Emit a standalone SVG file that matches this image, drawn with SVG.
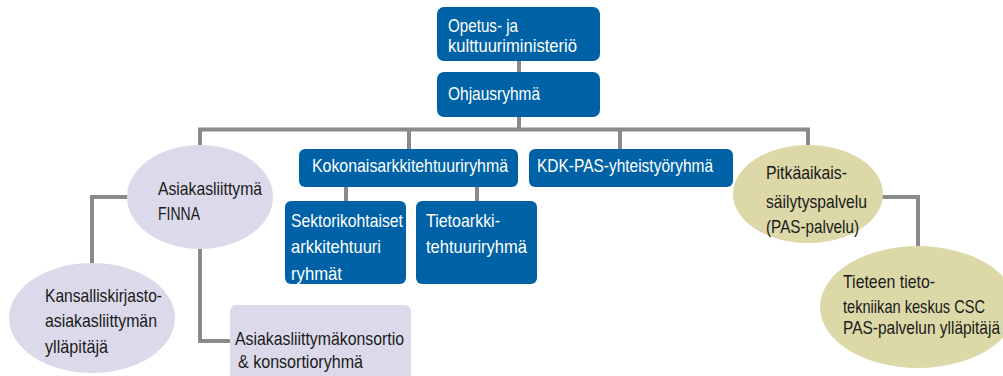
<svg xmlns="http://www.w3.org/2000/svg" width="1003" height="376" viewBox="0 0 1003 376">
<style>
.conn{fill:none;stroke:#8a8a8a;stroke-width:4}
.blue{fill:#0062a6}
.lav{fill:#dcdaea}
.olive{fill:#dcd8a8}
text{font-family:"Liberation Sans",Arial,sans-serif;font-size:19px}
.w{fill:#ffffff}
.k{fill:#1a1a1a}
</style>
<rect width="1003" height="376" fill="#ffffff"/>
<g id="connectors">
<path class="conn" d="M519 61V72"/>
<path class="conn" d="M519 117V130"/>
<path class="conn" d="M200 150V129.5H808V152"/>
<path class="conn" d="M409 129.5V149"/>
<path class="conn" d="M620 129.5V149"/>
<path class="conn" d="M346 187V201"/>
<path class="conn" d="M477 187V201"/>
<path class="conn" d="M130 197H92V266"/>
<path class="conn" d="M200 248V341H232"/>
<path class="conn" d="M880 197H918V248"/>
</g>
<g id="opetus">
<rect class="blue" x="437" y="7" width="163" height="54" rx="7"/>
<text class="w" x="448" y="32" textLength="70" lengthAdjust="spacingAndGlyphs">Opetus- ja</text>
<text class="w" x="448" y="52" textLength="129" lengthAdjust="spacingAndGlyphs">kulttuuriministeriö</text>
</g>
<g id="ohjausryhma">
<rect class="blue" x="437" y="72" width="163" height="45" rx="7"/>
<text class="w" x="448" y="100" textLength="92" lengthAdjust="spacingAndGlyphs">Ohjausryhmä</text>
</g>
<g id="kokonais">
<rect class="blue" x="299" y="149" width="219" height="38" rx="6"/>
<text class="w" x="312" y="172" textLength="196" lengthAdjust="spacingAndGlyphs">Kokonaisarkkitehtuuriryhmä</text>
</g>
<g id="kdk">
<rect class="blue" x="529" y="149" width="204" height="38" rx="6"/>
<text class="w" x="537" y="172" textLength="176" lengthAdjust="spacingAndGlyphs">KDK-PAS-yhteistyöryhmä</text>
</g>
<g id="sektori">
<rect class="blue" x="285" y="201" width="121" height="83" rx="6"/>
<text class="w" x="291" y="227" textLength="112" lengthAdjust="spacingAndGlyphs">Sektorikohtaiset</text>
<text class="w" x="291" y="253" textLength="90" lengthAdjust="spacingAndGlyphs">arkkitehtuuri</text>
<text class="w" x="291" y="280" textLength="51" lengthAdjust="spacingAndGlyphs">ryhmät</text>
</g>
<g id="tietoarkki">
<rect class="blue" x="416" y="201" width="121" height="83" rx="6"/>
<text class="w" x="426" y="227" textLength="74" lengthAdjust="spacingAndGlyphs">Tietoarkki-</text>
<text class="w" x="426" y="253" textLength="101" lengthAdjust="spacingAndGlyphs">tehtuuriryhmä</text>
</g>
<g id="finna">
<ellipse class="lav" cx="200" cy="197" rx="73" ry="52"/>
<text class="k" x="158" y="195" textLength="104" lengthAdjust="spacingAndGlyphs">Asiakasliittymä</text>
<text class="k" x="158" y="220" textLength="42" lengthAdjust="spacingAndGlyphs">FINNA</text>
</g>
<g id="kansallis">
<ellipse class="lav" cx="92" cy="318" rx="83" ry="55"/>
<text class="k" x="45" y="302" textLength="117" lengthAdjust="spacingAndGlyphs">Kansalliskirjasto-</text>
<text class="k" x="45" y="327" textLength="112" lengthAdjust="spacingAndGlyphs">asiakasliittymän</text>
<text class="k" x="45" y="353" textLength="63" lengthAdjust="spacingAndGlyphs">ylläpitäjä</text>
</g>
<g id="konsortio">
<rect class="lav" x="230" y="305" width="181" height="80" rx="6"/>
<text class="k" x="235" y="345" textLength="169" lengthAdjust="spacingAndGlyphs">Asiakasliittymäkonsortio</text>
<text class="k" x="238" y="368" textLength="125" lengthAdjust="spacingAndGlyphs">&amp; konsortioryhmä</text>
</g>
<g id="pas">
<ellipse class="olive" cx="808" cy="194" rx="75" ry="49"/>
<text class="k" x="766" y="179" textLength="81" lengthAdjust="spacingAndGlyphs">Pitkäaikais-</text>
<text class="k" x="766" y="208" textLength="101" lengthAdjust="spacingAndGlyphs">säilytyspalvelu</text>
<text class="k" x="766" y="233" textLength="93" lengthAdjust="spacingAndGlyphs">(PAS-palvelu)</text>
</g>
<g id="csc">
<ellipse class="olive" cx="918" cy="307" rx="98" ry="61"/>
<text class="k" x="843" y="288" textLength="92" lengthAdjust="spacingAndGlyphs">Tieteen tieto-</text>
<text class="k" x="843" y="313" textLength="142" lengthAdjust="spacingAndGlyphs">tekniikan keskus CSC</text>
<text class="k" x="843" y="334" textLength="157" lengthAdjust="spacingAndGlyphs">PAS-palvelun ylläpitäjä</text>
</g>
</svg>
